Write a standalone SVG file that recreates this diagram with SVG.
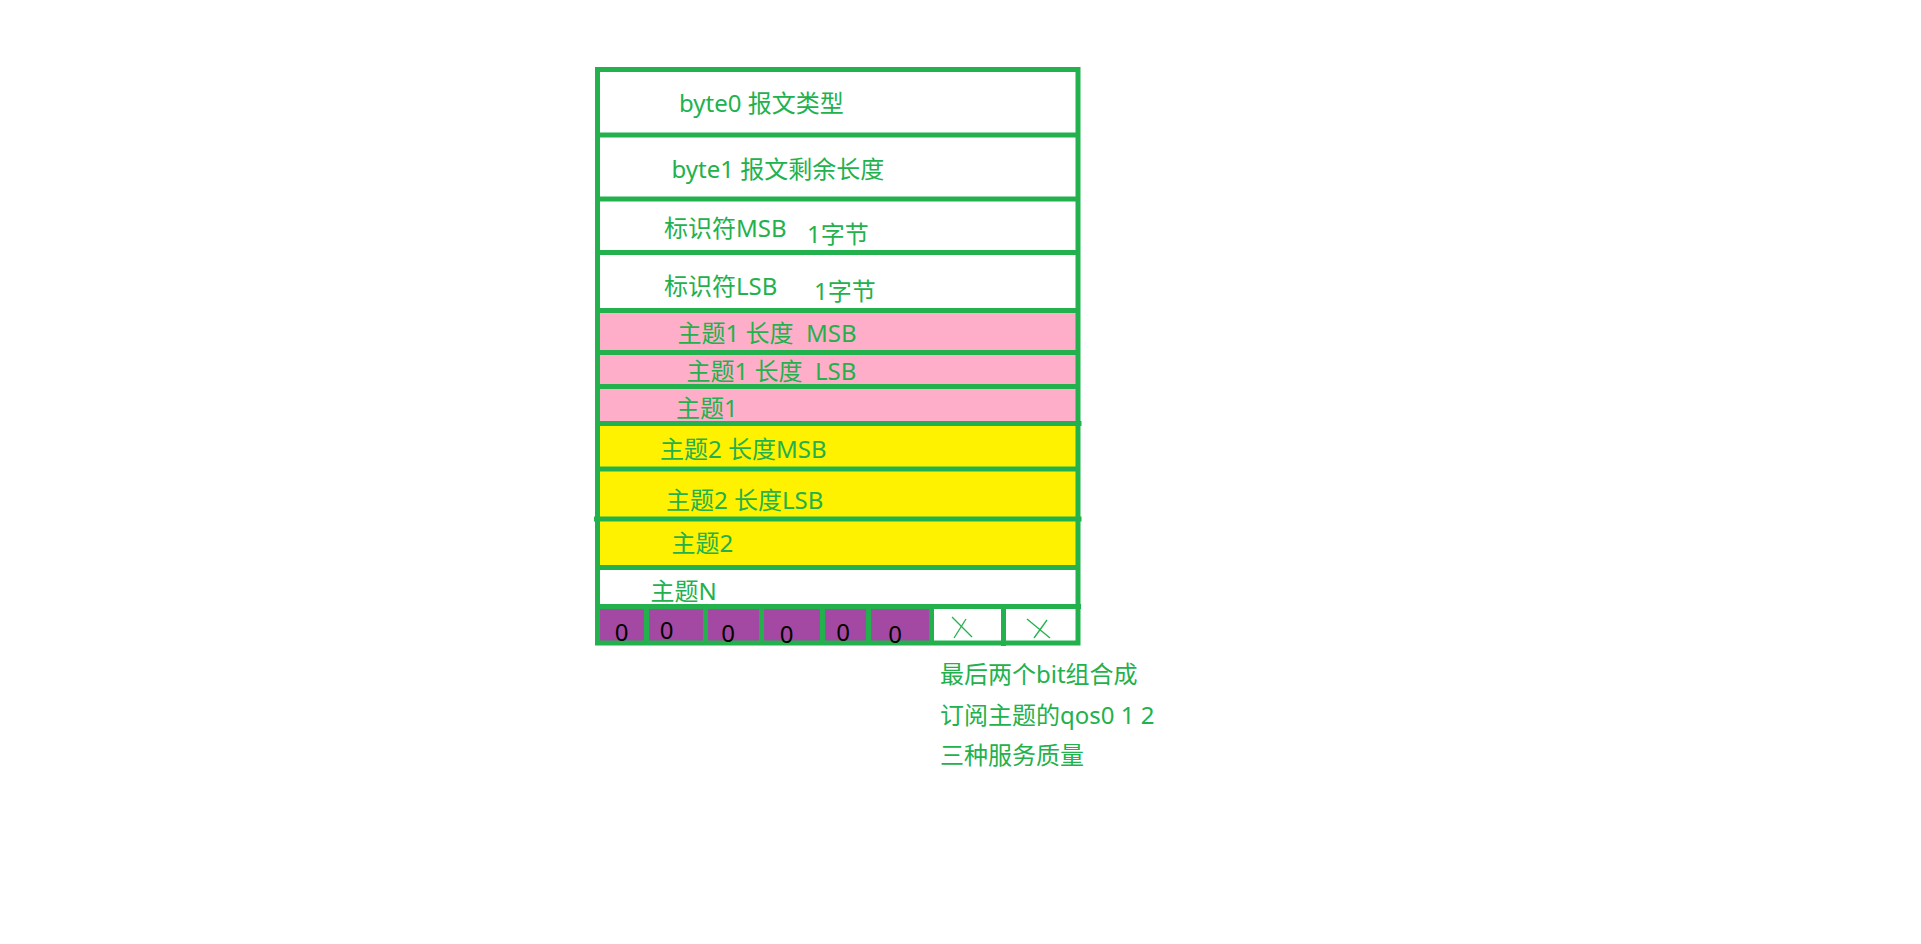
<svg xmlns="http://www.w3.org/2000/svg" width="1921" height="944" viewBox="0 0 1921 944">
<style>
.t{font-family:"Noto Sans","Noto Sans CJK SC",sans-serif;font-size:24px;fill:#22B14C}
.d{font-family:"Noto Sans","Noto Sans CJK SC",sans-serif;font-size:24px;fill:#000}
.ln{stroke:#22B14C;stroke-width:5;fill:none}
.x{stroke:#22B14C;stroke-width:1.3;fill:none}
</style>
<rect width="1921" height="944" fill="#fff"/>
<g id="fills">
<rect x="597.5" y="310.5" width="480.5" height="113" fill="#FFAEC9"/>
<rect x="597.5" y="423.5" width="480.5" height="144" fill="#FFF200"/>
<g fill="#A349A4">
<rect x="600" y="609" width="44" height="32"/>
<rect x="649" y="609" width="54" height="32"/>
<rect x="708" y="609" width="51" height="32"/>
<rect x="764" y="609" width="56" height="32"/>
<rect x="825" y="609" width="41" height="32"/>
<rect x="871" y="609" width="58" height="32"/>
</g>
</g>
<g id="connectors">
<rect class="ln" x="597.5" y="69.5" width="480.5" height="573.5"/>
<line class="ln" x1="597.5" y1="135" x2="1078" y2="135"/>
<line class="ln" x1="597.5" y1="199" x2="1078" y2="199"/>
<line class="ln" x1="597.5" y1="252.5" x2="1078" y2="252.5"/>
<line class="ln" x1="597.5" y1="310.5" x2="1078" y2="310.5"/>
<line class="ln" x1="597.5" y1="352.5" x2="1078" y2="352.5"/>
<line class="ln" x1="597.5" y1="386.5" x2="1078" y2="386.5"/>
<line class="ln" x1="597.5" y1="423.5" x2="1081.5" y2="423.5"/>
<line class="ln" x1="597.5" y1="469" x2="1078" y2="469"/>
<line class="ln" x1="594" y1="519" x2="1081.5" y2="519"/>
<line class="ln" x1="597.5" y1="567.5" x2="1078" y2="567.5"/>
<line class="ln" x1="597.5" y1="606.5" x2="1081" y2="606.5"/>
<line class="ln" x1="646.5" y1="606.5" x2="646.5" y2="643"/>
<line class="ln" x1="705.5" y1="606.5" x2="705.5" y2="643"/>
<line class="ln" x1="761.5" y1="606.5" x2="761.5" y2="643"/>
<line class="ln" x1="822.5" y1="606.5" x2="822.5" y2="643"/>
<line class="ln" x1="868.5" y1="606.5" x2="868.5" y2="643"/>
<line class="ln" x1="931.5" y1="606.5" x2="931.5" y2="643"/>
<line class="ln" x1="1003.5" y1="606.5" x2="1003.5" y2="646"/>
<line class="x" x1="952" y1="617" x2="972" y2="637"/>
<line class="x" x1="966" y1="619" x2="954" y2="638"/>
<line class="x" x1="1027" y1="619" x2="1050" y2="638"/>
<line class="x" x1="1047" y1="620" x2="1034" y2="638"/>
</g>
<g id="row-byte0"><text class="t" x="679" y="112">byte0 报文类型</text></g>
<g id="row-byte1"><text class="t" x="671.5" y="177.5">byte1 报文剩余长度</text></g>
<g id="row-msb"><text class="t" x="664" y="236.5">标识符MSB</text><text class="t" x="807" y="242.5">1字节</text></g>
<g id="row-lsb"><text class="t" x="664" y="295">标识符LSB</text><text class="t" x="814" y="300">1字节</text></g>
<g id="row-t1msb"><text class="t" x="677.5" y="341.5" xml:space="preserve">主题1 长度  MSB</text></g>
<g id="row-t1lsb"><text class="t" x="686.5" y="379.5" xml:space="preserve">主题1 长度  LSB</text></g>
<g id="row-t1"><text class="t" x="676" y="416.5">主题1</text></g>
<g id="row-t2msb"><text class="t" x="660" y="457.5">主题2 长度MSB</text></g>
<g id="row-t2lsb"><text class="t" x="666" y="509">主题2 长度LSB</text></g>
<g id="row-t2"><text class="t" x="671.5" y="552">主题2</text></g>
<g id="row-tn"><text class="t" x="650.5" y="600">主题N</text></g>
<g id="row-bits">
<text class="d" x="621.5" y="640.5" text-anchor="middle">0</text>
<text class="d" x="666.5" y="638.5" text-anchor="middle">0</text>
<text class="d" x="728" y="641.5" text-anchor="middle">0</text>
<text class="d" x="786.5" y="642.5" text-anchor="middle">0</text>
<text class="d" x="843" y="640.5" text-anchor="middle">0</text>
<text class="d" x="895" y="642.5" text-anchor="middle">0</text>
</g>
<g id="note">
<text class="t" x="940" y="683">最后两个bit组合成</text>
<text class="t" x="940" y="724">订阅主题的qos0 1 2</text>
<text class="t" x="940" y="764">三种服务质量</text>
</g>
</svg>
